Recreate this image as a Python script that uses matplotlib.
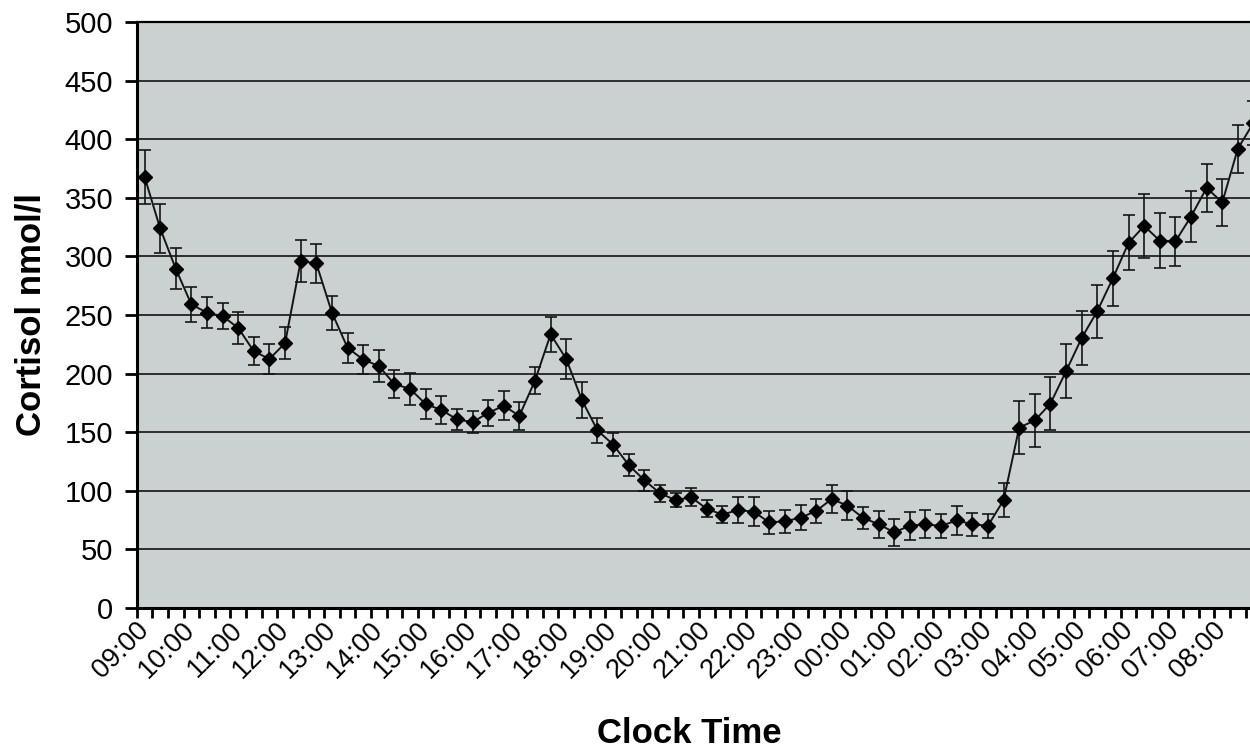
import matplotlib
matplotlib.use("Agg")
import matplotlib.pyplot as plt
import numpy as np

plt.rcParams['font.family'] = ['Liberation Sans', 'DejaVu Sans']

# 20-minute samples from 09:00 to 08:40 next day
cortisol = [368, 324, 289.5, 259, 252, 249, 239, 219, 212.5, 226,
            296, 294, 252, 222, 212, 206.5, 191, 187, 174, 169,
            161, 158.5, 166.5, 172.5, 164, 194, 233.5, 212.5, 177.5, 151.5,
            139.5, 122, 109, 98, 92, 94.5, 84.6, 79.7, 83.6, 82.2,
            73, 74, 77, 82.8, 93, 87.3, 77, 71.4, 64.6, 70.2,
            71.4, 70, 74.8, 71.4, 70.2, 92, 154, 160, 174.4, 202,
            230.4, 253.3, 281.4, 311.5, 326, 313.4, 312.8, 334, 358.5, 346,
            392, 414]
sem = [23, 21, 17.5, 15, 13, 11, 13.5, 12, 12.5, 13.5,
       18, 17, 14.5, 12.7, 12, 13.5, 12, 13.5, 12.5, 12,
       9, 9.5, 11, 12.5, 12, 11.3, 14.8, 17, 15.3, 10.6,
       9.7, 9.3, 8.8, 7.2, 6.2, 7.7, 7.3, 7.5, 11.5, 12.4,
       9.9, 9.8, 10.8, 10.5, 11.8, 12.5, 9.6, 11.3, 11.3, 11.8,
       11.8, 10.1, 12.4, 10, 10.2, 14.5, 23, 22.7, 22.4, 23.2,
       23, 22.5, 23.3, 23.5, 27.6, 23.4, 20.6, 21.8, 20.5, 19.7,
       20.5, 19]
hour_labels = ['09:00', '10:00', '11:00', '12:00', '13:00', '14:00', '15:00',
               '16:00', '17:00', '18:00', '19:00', '20:00', '21:00', '22:00',
               '23:00', '00:00', '01:00', '02:00', '03:00', '04:00', '05:00',
               '06:00', '07:00', '08:00']

x = np.arange(len(cortisol))

fig = plt.figure(figsize=(12.5, 7.49), dpi=100)
ax = fig.add_axes([136.7 / 1250, 141 / 749, 1124.6 / 1250, 586 / 749])
ax.set_facecolor('#cbd0d0')

ax.errorbar(x, cortisol, yerr=sem, color='#151515', lw=1.4, marker='D',
            ms=7, mfc='black', mec='black', ecolor='#151515',
            elinewidth=1.2, capsize=4.5, capthick=1.2, zorder=3)

ax.set_xlim(-0.5, len(cortisol) - 0.5)
ax.set_ylim(0, 500)
ax.set_yticks(np.arange(0, 501, 50))
ax.yaxis.grid(True, color='#222222', lw=1.3)
ax.set_axisbelow(True)

ax.set_xticks(np.arange(0, len(cortisol), 3))
ax.set_xticklabels(hour_labels, rotation=45, ha='right', va='center',
                   rotation_mode='anchor')
ax.set_xticks(np.arange(-0.5, len(cortisol), 1), minor=True)
ax.tick_params(axis='x', which='major', length=0, pad=13, labelsize=19.5)
ax.tick_params(axis='x', which='minor', length=7, width=2, direction='out')
ax.tick_params(axis='y', length=9, width=2, direction='out', pad=8,
               labelsize=21)

ax.spines['left'].set_linewidth(2.2)
ax.spines['bottom'].set_linewidth(2.2)
ax.spines['top'].set_linewidth(1.6)
ax.spines['right'].set_visible(False)

ax.set_ylabel('Cortisol nmol/l', fontsize=25, fontweight='bold', labelpad=12)
fig.text(689 / 1250, 6 / 749, 'Clock Time', fontsize=25, fontweight='bold',
         ha='center', va='baseline')

fig.savefig('out.png', dpi=100)
